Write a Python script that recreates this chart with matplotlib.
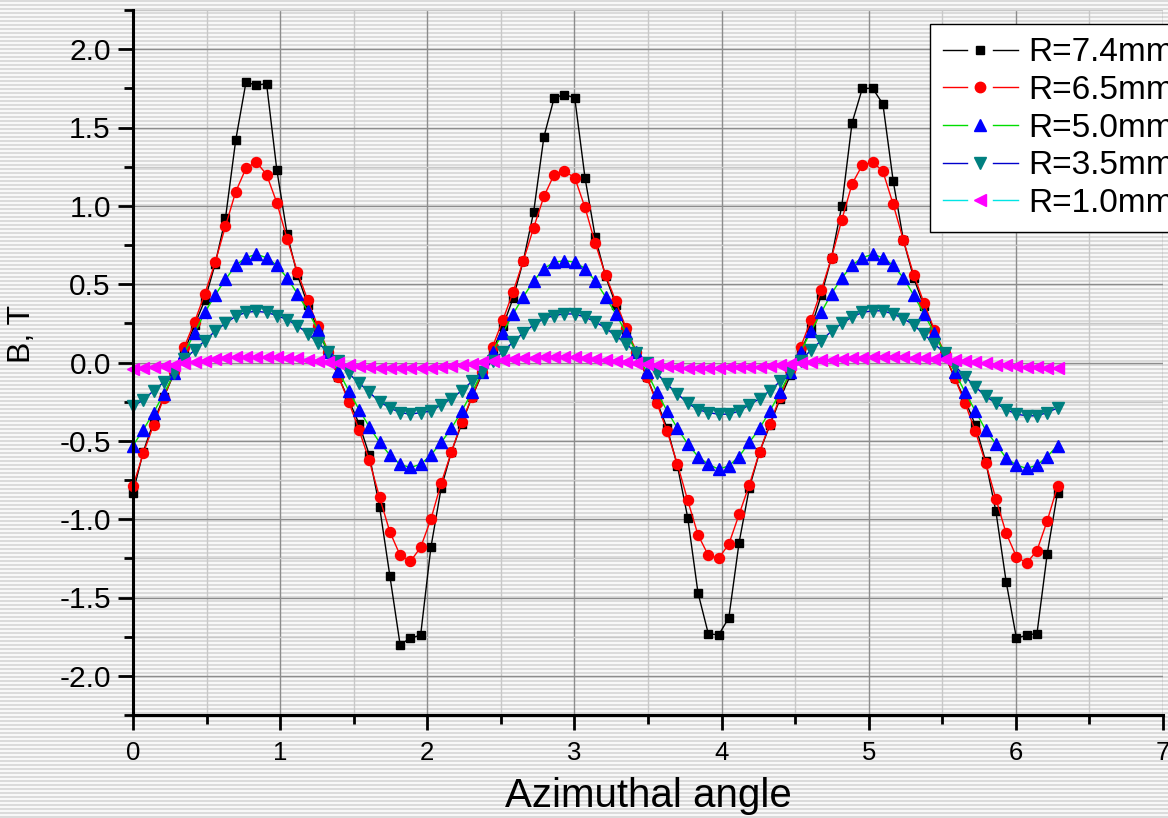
import numpy as np
import matplotlib
matplotlib.use("Agg")
import matplotlib.pyplot as plt
from matplotlib.lines import Line2D
from matplotlib.legend_handler import HandlerBase
from matplotlib.ticker import MultipleLocator, FormatStrFormatter

plt.rcParams['font.family'] = ['Liberation Sans', 'DejaVu Sans']
plt.rcParams['axes.unicode_minus'] = False

# ---------------- data ----------------
angle_deg = np.arange(0, 361, 4)          # measurement grid, 4 degree steps
theta = np.deg2rad(angle_deg)

labels = ["R=7.4mm", "R=6.5mm", "R=5.0mm", "R=3.5mm", "R=1.0mm"]

b_74 = [-0.83, -0.57, -0.38, -0.22, -0.07, 0.07, 0.24, 0.40, 0.63, 0.92,
        1.42, 1.79, 1.77, 1.78, 1.23, 0.82, 0.56, 0.37, 0.21, 0.06,
        -0.09, -0.24, -0.39, -0.59, -0.92, -1.36, -1.80, -1.76, -1.74, -1.18,
        -0.80, -0.57, -0.39, -0.22, -0.07, 0.07, 0.23, 0.41, 0.65, 0.96,
        1.44, 1.69, 1.71, 1.69, 1.18, 0.80, 0.55, 0.37, 0.21, 0.06,
        -0.09, -0.25, -0.42, -0.66, -0.99, -1.47, -1.73, -1.74, -1.63, -1.15,
        -0.80, -0.57, -0.40, -0.23, -0.08, 0.07, 0.22, 0.43, 0.67, 1.00,
        1.53, 1.75, 1.75, 1.65, 1.16, 0.78, 0.54, 0.36, 0.20, 0.05,
        -0.10, -0.24, -0.40, -0.63, -0.95, -1.40, -1.76, -1.74, -1.73, -1.22,
        -0.83]

b_65 = [-0.79, -0.58, -0.40, -0.225, -0.06, 0.10, 0.26, 0.44, 0.64, 0.87,
        1.09, 1.24, 1.28, 1.20, 1.02, 0.79, 0.58, 0.40, 0.23, 0.07,
        -0.09, -0.25, -0.43, -0.625, -0.86, -1.08, -1.23, -1.27, -1.18, -1.00,
        -0.77, -0.57, -0.38, -0.22, -0.06, 0.10, 0.27, 0.45, 0.65, 0.86,
        1.06, 1.20, 1.22, 1.18, 0.99, 0.76, 0.56, 0.39, 0.22, 0.07,
        -0.09, -0.26, -0.44, -0.65, -0.88, -1.10, -1.23, -1.25, -1.16, -0.97,
        -0.78, -0.57, -0.39, -0.22, -0.05, 0.10, 0.27, 0.46, 0.67, 0.91,
        1.14, 1.26, 1.28, 1.22, 1.01, 0.78, 0.56, 0.38, 0.21, 0.06,
        -0.10, -0.26, -0.44, -0.64, -0.87, -1.09, -1.24, -1.28, -1.20, -1.01,
        -0.79]

b_50 = [-0.53, -0.43, -0.32, -0.20, -0.07, 0.06, 0.19, 0.32, 0.43, 0.53,
        0.62, 0.67, 0.69, 0.67, 0.62, 0.54, 0.44, 0.33, 0.21, 0.07,
        -0.055, -0.18, -0.30, -0.41, -0.51, -0.59, -0.65, -0.67, -0.65, -0.59,
        -0.51, -0.42, -0.31, -0.19, -0.06, 0.07, 0.19, 0.31, 0.42, 0.52,
        0.60, 0.64, 0.65, 0.64, 0.60, 0.52, 0.42, 0.31, 0.19, 0.07,
        -0.06, -0.19, -0.31, -0.42, -0.52, -0.60, -0.65, -0.68, -0.66, -0.60,
        -0.51, -0.42, -0.31, -0.19, -0.06, 0.07, 0.20, 0.32, 0.44, 0.54,
        0.62, 0.67, 0.69, 0.67, 0.62, 0.54, 0.43, 0.31, 0.19, 0.06,
        -0.06, -0.19, -0.31, -0.43, -0.52, -0.61, -0.655, -0.676, -0.655, -0.60,
        -0.53]

b_35 = [-0.28, -0.24, -0.18, -0.125, -0.065, 0.02, 0.08, 0.14, 0.20, 0.25,
        0.295, 0.32, 0.327, 0.32, 0.30, 0.274, 0.236, 0.185, 0.126, 0.066,
        0.008, -0.07, -0.13, -0.19, -0.25, -0.29, -0.32, -0.33, -0.32, -0.31,
        -0.27, -0.23, -0.18, -0.12, -0.06, 0.01, 0.07, 0.13, 0.19, 0.24,
        0.28, 0.30, 0.31, 0.31, 0.29, 0.26, 0.22, 0.17, 0.12, 0.06,
        0.00, -0.07, -0.14, -0.20, -0.26, -0.30, -0.32, -0.33, -0.33, -0.31,
        -0.27, -0.23, -0.18, -0.12, -0.06, 0.01, 0.08, 0.14, 0.20, 0.25,
        0.29, 0.32, 0.33, 0.33, 0.31, 0.28, 0.24, 0.18, 0.12, 0.06,
        -0.02, -0.09, -0.155, -0.215, -0.26, -0.30, -0.33, -0.34, -0.34, -0.32,
        -0.29]

b_10 = [-0.040, -0.036, -0.030, -0.023, -0.015, -0.006, 0.003, 0.012, 0.020, 0.027,
        0.032, 0.035, 0.037, 0.037, 0.035, 0.031, 0.026, 0.019, 0.011, 0.003,
        -0.006, -0.014, -0.022, -0.028, -0.033, -0.036, -0.038, -0.038, -0.036, -0.032,
        -0.027, -0.021, -0.014, -0.007, 0.001, 0.009, 0.016, 0.022, 0.027, 0.031,
        0.033, 0.034, 0.034, 0.032, 0.029, 0.024, 0.018, 0.011, 0.004, -0.004,
        -0.011, -0.018, -0.024, -0.029, -0.032, -0.034, -0.034, -0.033, -0.030, -0.026,
        -0.030, -0.026, -0.021, -0.015, -0.008, -0.001, 0.006, 0.013, 0.019, 0.024,
        0.028, 0.031, 0.033, 0.034, 0.034, 0.033, 0.031, 0.028, 0.024, 0.020,
        0.016, 0.008, 0.001, -0.006, -0.013, -0.019, -0.024, -0.028, -0.031, -0.033,
        -0.034]

x_ticks = [0, 1, 2, 3, 4, 5, 6, 7]
y_ticks = [-2.0, -1.5, -1.0, -0.5, 0.0, 0.5, 1.0, 1.5, 2.0]

# ---------------- figure ----------------
W, H = 1168, 818
fig = plt.figure(figsize=(W / 100, H / 100), dpi=100)

# striped background (whole picture)
rows = np.arange(H)
shade = np.where(rows % 4 < 2, 0.86, 0.975)
bg = np.repeat(shade[:, None], W, axis=1)
bg = np.dstack([bg, bg, bg])
fig.figimage(bg, xo=0, yo=0, origin='upper', zorder=-10)

ax = fig.add_axes([133 / W, 1 - 715 / H, (1163 - 133) / W, (715 - 10) / H])
ax.set_facecolor('none')
ax.set_xlim(0, 7)
ax.set_ylim(-2.25, 2.25)

for s in ['top', 'right']:
    ax.spines[s].set_visible(False)
for s in ['left', 'bottom']:
    ax.spines[s].set_linewidth(2.2)

ax.set_xticks(x_ticks)
ax.set_xticklabels([str(t) for t in x_ticks])
ax.set_yticks(y_ticks)
ax.yaxis.set_major_formatter(FormatStrFormatter('%.1f'))
ax.xaxis.set_minor_locator(MultipleLocator(0.5))
ax.yaxis.set_minor_locator(MultipleLocator(0.25))
ax.tick_params(which='major', direction='out', length=11, width=2.0)
ax.tick_params(which='minor', direction='out', length=6.5, width=2.0)
ax.tick_params(axis='y', labelsize=21.5, pad=5)
ax.tick_params(axis='x', labelsize=18.5, pad=8)

ax.set_axisbelow(True)
ax.grid(which='major', color='#8c8c8c', lw=1.0)
ax.grid(which='minor', color='#c8c8c8', lw=1.0)

styles = [
    dict(color='black', marker='s', ms=6.2, mfc='black', mec='black'),
    dict(color='red', marker='o', ms=7.2, mfc='red', mec='red'),
    dict(color='#00dd00', marker='^', ms=8, mfc='blue', mec='blue'),
    dict(color='#0000cc', marker='v', ms=8, mfc='#008080', mec='#008080'),
    dict(color='#00e5e5', marker='<', ms=8, mfc='#ff00ff', mec='#ff00ff'),
]
series = [b_74, b_65, b_50, b_35, b_10]
for ys, st in zip(series, styles):
    ax.plot(theta, ys, lw=1.0, clip_on=False, **st)

ax.set_xlabel('Azimuthal angle', fontsize=29)
ax.xaxis.set_label_coords(0.5, (715 - 777) / 705)
ax.xaxis.label.set_va('top')
ax.set_ylabel('B, T', fontsize=23)
ax.yaxis.set_label_coords((37 - 133) / 1030, (715 - 334) / 705)


# legend in Origin style: line - marker - line
class OriginKey:
    def __init__(self, st, ms):
        self.st = st
        self.ms = ms


class OriginHandler(HandlerBase):
    def create_artists(self, legend, orig_handle, xdescent, ydescent,
                       width, height, fontsize, trans):
        st = orig_handle.st
        x0 = -xdescent
        y = height / 2.0 - ydescent
        l1 = Line2D([x0, x0 + 0.32 * width], [y, y],
                    color=st['color'], lw=1.0, transform=trans)
        l2 = Line2D([x0 + 0.66 * width, x0 + 1.0 * width], [y, y],
                    color=st['color'], lw=1.0, transform=trans)
        mk = Line2D([x0 + 0.49 * width], [y], ls='none', marker=st['marker'],
                    ms=orig_handle.ms, mfc=st['mfc'], mec=st['mec'],
                    transform=trans)
        return [l1, l2, mk]


leg_ms = [5.5, 7.5, 8.5, 8.5, 8.5]
handles = [OriginKey(st, m) for st, m in zip(styles, leg_ms)]
leg = fig.legend(handles, labels, handler_map={OriginKey: OriginHandler()},
                 loc='upper left', bbox_to_anchor=(930 / W, 1 - 24 / H),
                 bbox_transform=fig.transFigure, borderaxespad=0,
                 fontsize=24, handlelength=2.25, handletextpad=0.3,
                 labelspacing=0.2, borderpad=0.4, fancybox=False,
                 framealpha=1, edgecolor='black', facecolor='white')
leg.get_frame().set_linewidth(1.0)

fig.savefig('out.png', dpi=100)
